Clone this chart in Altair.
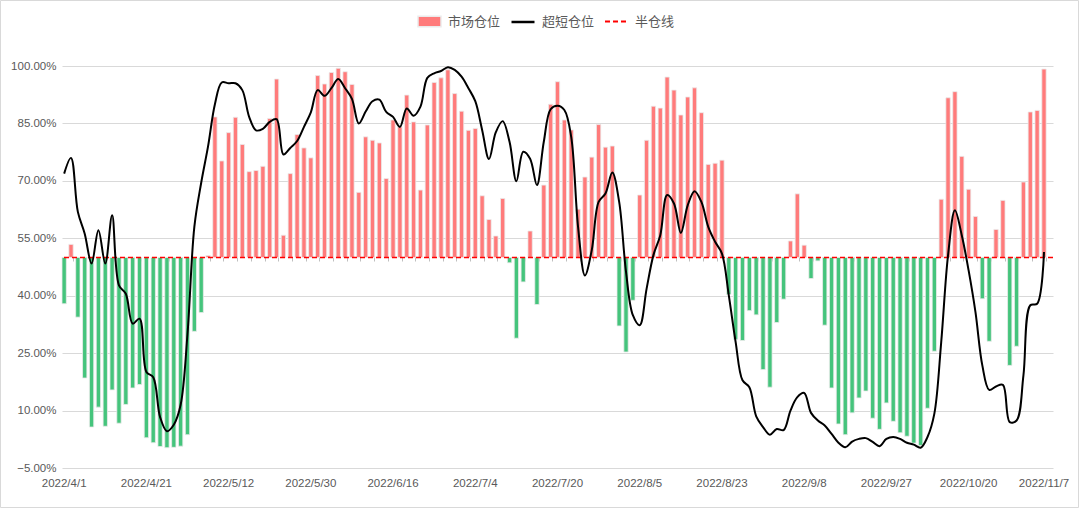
import altair as alt
import pandas as pd

# 市场仓位 (%), one value per trading day
market = [37.9, 53.4, 34.4, 18.5, 5.7, 10.9, 5.9, 15.4, 6.7, 11.6,
          15.9, 16.8, 2.9, 1.6, 0.6, 0.3, 0.4, 0.7, 3.7, 30.7,
          35.6, 50.5, 86.7, 75.2, 82.6, 86.6, 79.5, 72.4, 72.7, 73.8,
          86.3, 96.6, 55.8, 71.9, 82.1, 78.6, 76.0, 97.5, 95.3, 98.3,
          99.4, 98.5, 95.2, 67.0, 81.5, 80.6, 79.9, 70.6, 85.9, 84.1,
          92.4, 85.4, 67.6, 84.6, 95.7, 96.9, 99.0, 92.8, 88.2, 83.2,
          83.7, 66.1, 59.9, 55.6, 65.4, 48.6, 28.9, 43.6, 56.9, 37.7,
          68.9, 90.0, 95.9, 85.9, 83.3, 62.6, 71.0, 76.2, 84.7, 78.8,
          79.1, 32.1, 25.3, 38.8, 66.3, 80.6, 89.5, 89.0, 97.1, 93.7,
          87.2, 91.9, 94.3, 87.8, 74.3, 74.6, 75.4, 40.3, 28.6, 28.3,
          36.1, 35.0, 20.7, 16.1, 33.0, 39.1, 54.3, 66.6, 53.2, 44.5,
          49.1, 32.3, 15.9, 6.5, 3.7, 9.4, 13.3, 15.1, 8.0, 5.1,
          12.0, 7.2, 4.2, 3.3, 1.5, 0.9, 10.6, 25.5, 65.2, 91.7,
          93.3, 76.4, 67.8, 60.7, 39.2, 28.1, 57.3, 64.9, 21.8, 26.8,
          69.7, 88.0, 88.4, 99.2]

# 超短仓位 (%)
ultra = [71.9, 76.0, 61.9, 56.2, 48.4, 57.1, 48.4, 61.0, 42.7, 40.5,
         32.7, 34.0, 20.1, 18.7, 8.3, 4.6, 6.3, 11.5, 30.0, 58.0,
         69.5, 79.0, 90.0, 95.7, 95.5, 95.5, 93.7, 86.7, 83.2, 83.6,
         85.4, 86.1, 76.9, 78.6, 80.4, 84.1, 87.9, 93.7, 92.2, 94.2,
         96.6, 94.2, 91.4, 85.0, 88.1, 90.8, 91.2, 88.0, 86.7, 84.1,
         88.9, 87.0, 89.4, 96.9, 98.1, 98.7, 99.7, 99.0, 97.2, 94.2,
         90.8, 83.3, 75.7, 82.7, 85.6, 80.2, 69.9, 77.6, 75.8, 68.9,
         80.2, 88.7, 89.6, 88.5, 81.5, 58.0, 45.3, 51.9, 64.5, 66.7,
         72.2, 64.5, 46.2, 34.9, 32.3, 41.8, 50.6, 55.8, 66.3, 64.1,
         56.4, 63.6, 67.3, 64.5, 58.0, 54.1, 51.0, 40.1, 27.9, 17.9,
         16.1, 8.5, 5.7, 3.7, 5.2, 4.9, 10.0, 13.5, 14.6, 9.4,
         7.4, 6.1, 3.9, 1.6, 0.4, 1.9, 2.6, 2.8, 1.8, 0.7,
         2.6, 3.1, 2.6, 1.6, 1.1, 0.3, 3.1, 9.2, 27.9, 50.6,
         62.3, 55.8, 46.6, 35.7, 21.8, 15.4, 16.3, 16.7, 7.0, 7.4,
         19.2, 37.5, 37.9, 51.4]

half_level = [50.0]

tick_idx = [0, 12, 24, 36, 48, 60, 72, 84, 96, 108, 120, 132, 143]
tick_labels = ["2022/4/1", "2022/4/21", "2022/5/12", "2022/5/30", "2022/6/16",
               "2022/7/4", "2022/7/20", "2022/8/5", "2022/8/23", "2022/9/8",
               "2022/9/27", "2022/10/20", "2022/11/7"]
y_ticks = [-0.05, 0.10, 0.25, 0.40, 0.55, 0.70, 0.85, 1.00]

n = len(market)
df = pd.DataFrame({
    "i": list(range(n)),
    "m": [v / 100 for v in market],
    "u": [v / 100 for v in ultra],
})
df["base"] = half_level[0] / 100
df["cat"] = ["市场仓位" if v >= 50 else "空头" for v in market]
df["s"] = "超短仓位"
half = pd.DataFrame({"v": [h / 100 for h in half_level], "name": ["半仓线"]})
frame_df = pd.DataFrame({"k": [0]})

NUM_FONT = "Liberation Sans Narrow, Liberation Sans, Arial, sans-serif"
CJK_FONT = "Noto Sans CJK SC"
RED = "#FF7B7B"
GREEN = "#45C47C"
TXT = "#595959"

xscale = alt.Scale(domain=list(range(n + 1)), paddingInner=0.37, paddingOuter=0)
yscale = alt.Scale(domain=[-0.05, 1.0], nice=False, zero=False)

label_expr = ("[" + ",".join("'%s'" % t for t in tick_labels) + "][indexof(["
              + ",".join(str(t) for t in tick_idx) + "], datum.value)]")

x_axis = alt.Axis(values=tick_idx, labelExpr=label_expr, ticks=False, domain=False,
                  grid=False, labelAngle=0, labelPadding=9, labelFontSize=11.5,
                  labelColor=TXT, labelFont=NUM_FONT, title=None)
tick_axis = alt.Axis(orient="bottom", offset=-211, values=list(range(1, n, 2)),
                     bandPosition=1, labels=False, domain=False, ticks=True,
                     tickSize=4, tickColor="#BFBFBF", grid=False, title=None)
y_axis = alt.Axis(values=y_ticks, format=".2%", grid=True, gridColor="#D9D9D9",
                  ticks=False, domain=False, labelPadding=6, labelFontSize=11.5,
                  labelColor=TXT, labelFont=NUM_FONT, title=None)

leg_common = dict(orient="none", direction="horizontal", title=None, padding=0,
                  labelFont=CJK_FONT, labelFontSize=13, labelColor=TXT,
                  labelOffset=6, symbolSize=529)
LEG_Y = -57

bars = alt.Chart(df).mark_bar(stroke="#EBEBEB", strokeWidth=0.8).encode(
    x=alt.X("i:O", scale=xscale, axis=x_axis),
    y=alt.Y("m:Q", scale=yscale, axis=y_axis),
    y2="base:Q",
    color=alt.Color("cat:N",
                    scale=alt.Scale(domain=["市场仓位", "空头"], range=[RED, GREEN]),
                    legend=alt.Legend(values=["市场仓位"], legendX=355, legendY=LEG_Y,
                                      symbolType="M-1,-0.45H1V0.45H-1Z",
                                      symbolOpacity=1, **leg_common)),
)

rule = alt.Chart(half).mark_rule(color="#FF0000", strokeWidth=1.5).encode(
    y=alt.Y("v:Q", scale=yscale, axis=y_axis),
    strokeDash=alt.StrokeDash("name:N",
                              scale=alt.Scale(domain=["半仓线"], range=[[5, 3]]),
                              legend=alt.Legend(legendX=542, legendY=LEG_Y,
                                                symbolType="stroke",
                                                symbolStrokeColor="#FF0000",
                                                symbolStrokeWidth=2, **leg_common)),
)

line = alt.Chart(df).mark_line(strokeWidth=2, interpolate="catmull-rom").encode(
    x=alt.X("i:O", scale=xscale, axis=tick_axis),
    y=alt.Y("u:Q", scale=yscale, axis=y_axis),
    stroke=alt.Stroke("s:N", scale=alt.Scale(domain=["超短仓位"], range=["#000000"]),
                      legend=alt.Legend(legendX=448, legendY=LEG_Y, symbolType="stroke",
                                        symbolStrokeWidth=2.5, **leg_common)),
)

# light border round the whole chart area
frame = alt.Chart(frame_df).mark_rect(fill="transparent", stroke="#D9D9D9",
                                      strokeWidth=1).encode(
    x=alt.value(-61.5), x2=alt.value(1016.5), y=alt.value(-65.5), y2=alt.value(441.5)
)

chart = alt.layer(bars, rule, line, frame).resolve_axis(x="independent").properties(
    width=991, height=402,
    autosize=alt.AutoSizeParams(type="none"),
    padding={"left": 62, "top": 66, "right": 27, "bottom": 41},
    background="white",
).configure_view(stroke=None)

chart.save("out.html", embed_options={"renderer": "svg", "actions": False})
